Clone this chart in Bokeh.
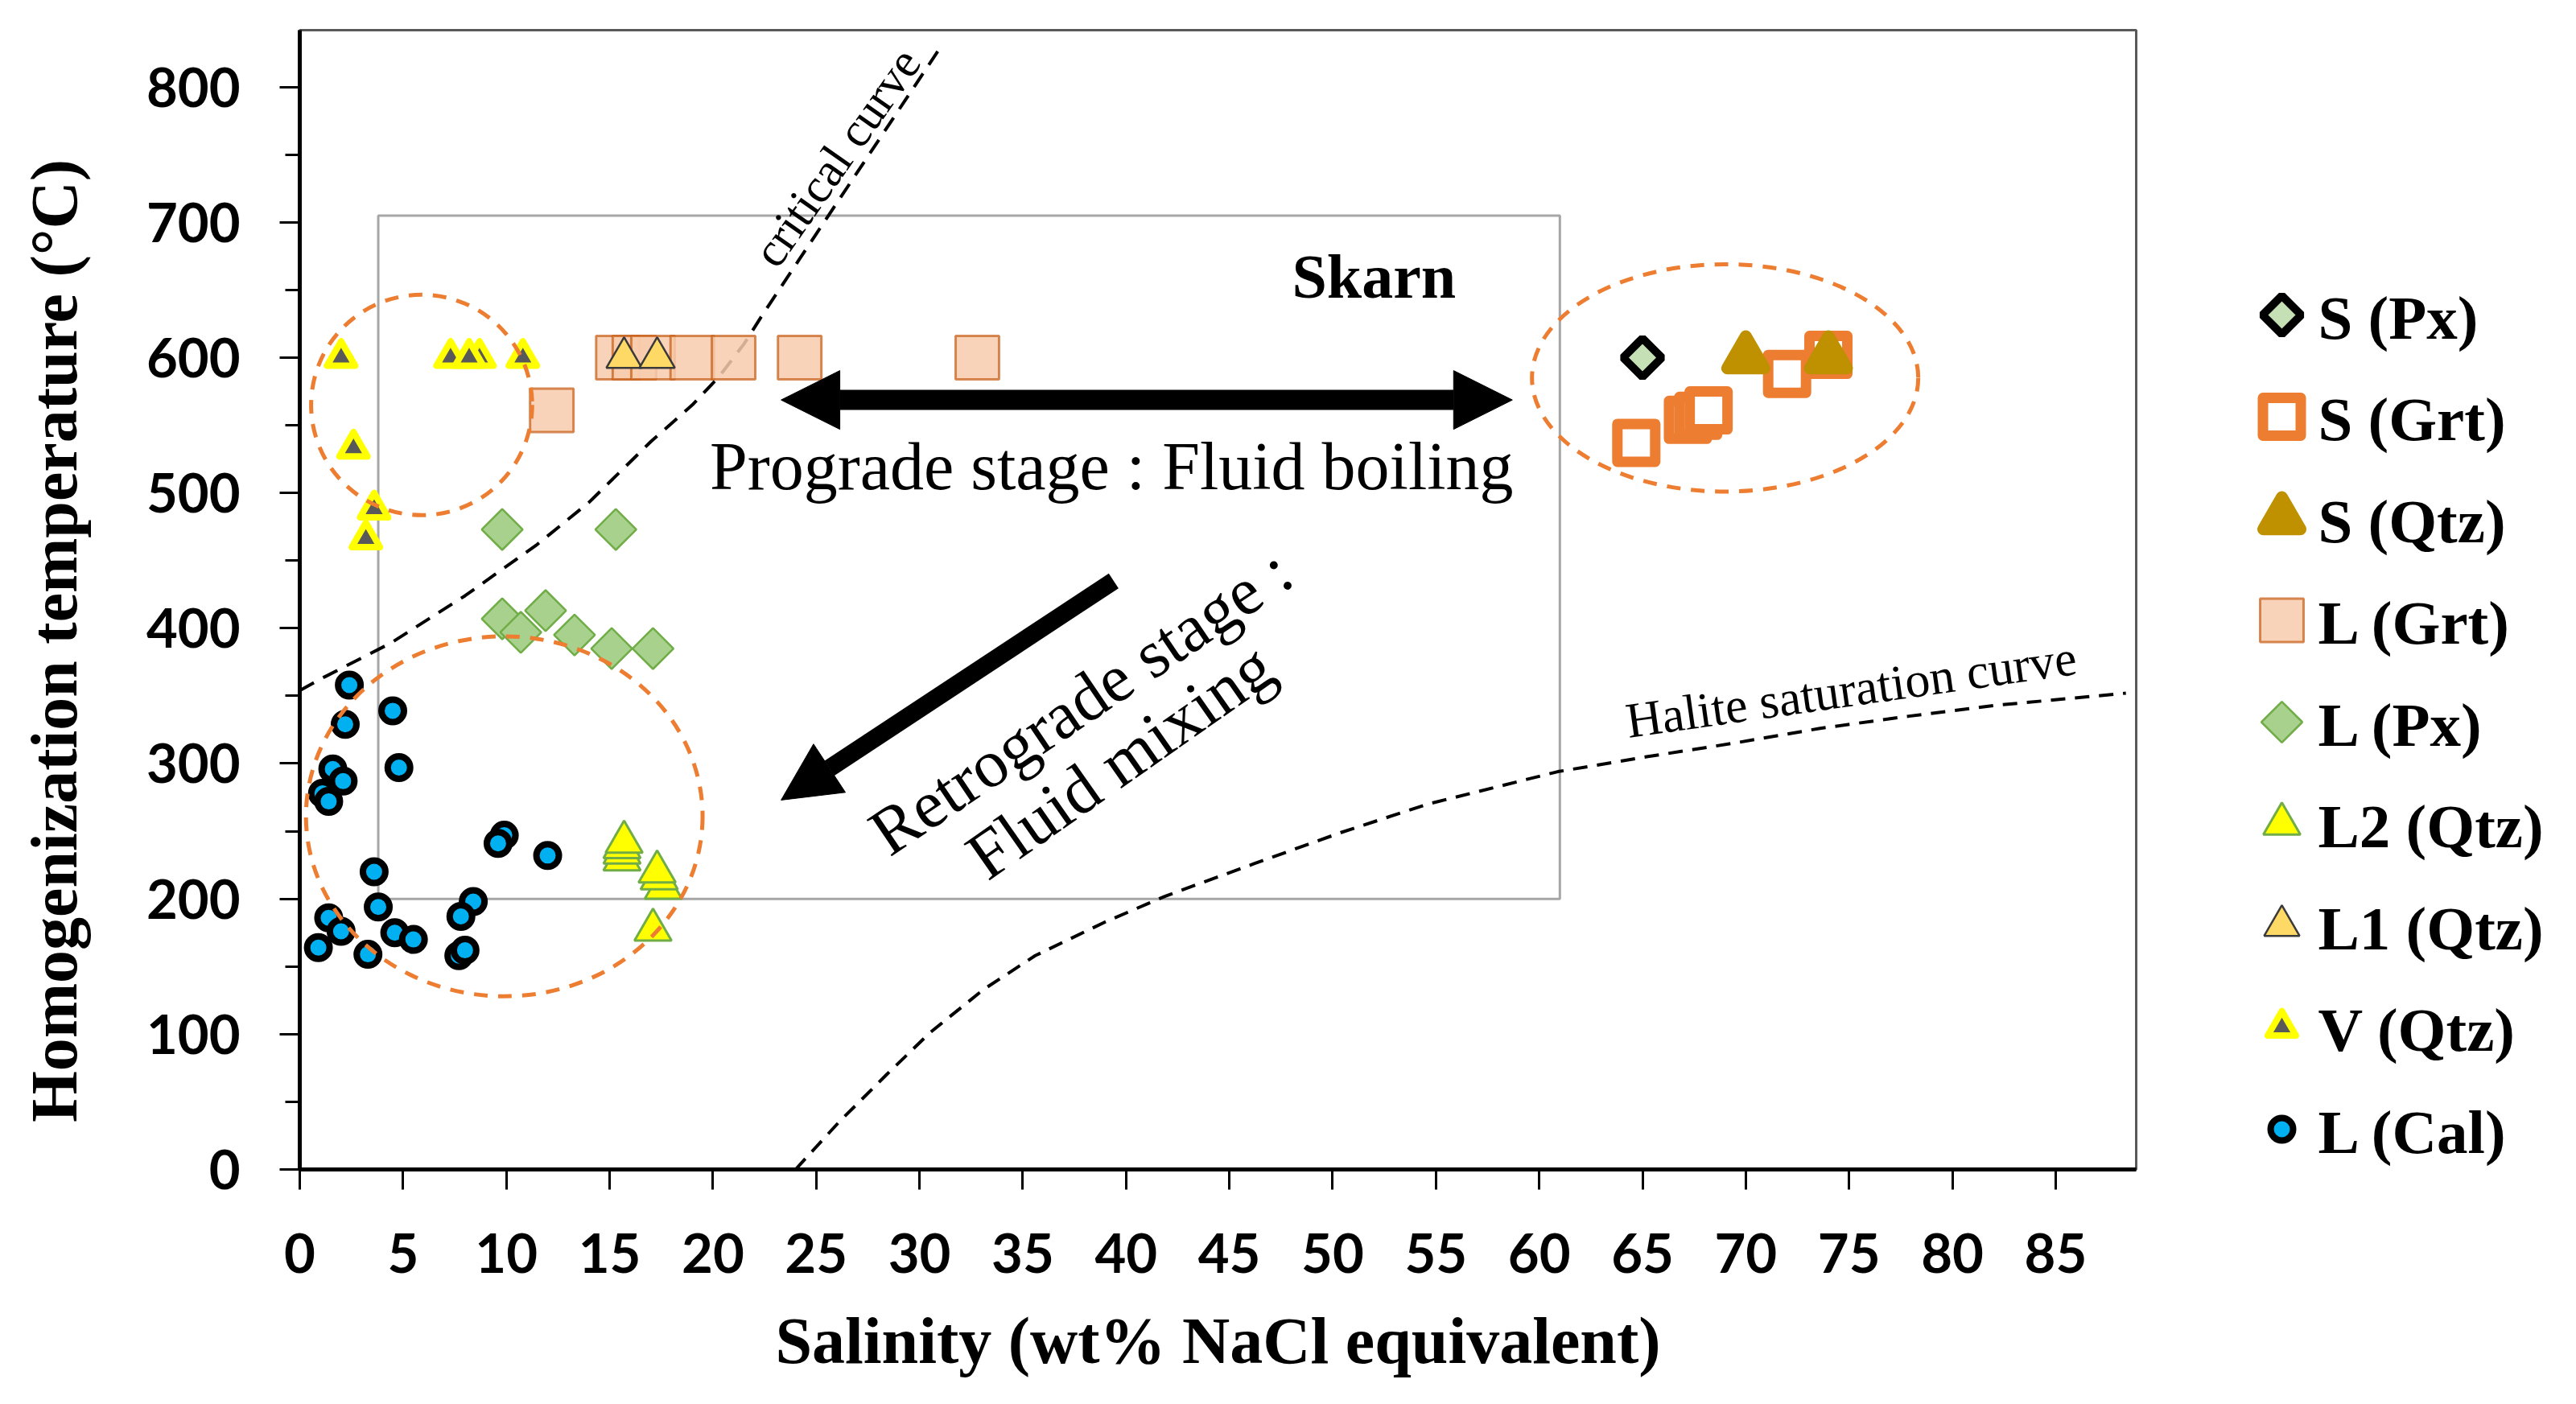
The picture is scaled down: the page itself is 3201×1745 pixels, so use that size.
import math
from bokeh.plotting import figure
from bokeh.models import Range1d, FixedTicker, Arrow, NormalHead, Label
from bokeh.layouts import row
from bokeh.core.properties import value
from bokeh.embed import file_html
from bokeh.resources import INLINE

# ---------------- data ----------------
s_px_x = [65.0]
s_px_y = [600]
s_grt_x = [64.7, 67.2, 67.7, 68.2, 72.0, 74.0]
s_grt_y = [537, 554, 557, 561, 588, 602]
s_qtz_x = [70.0, 74.0]
s_qtz_y = [600, 600]
l_grt_x = [12.2, 15.4, 16.2, 17.1, 19.0, 21.0, 24.2, 32.8]
l_grt_y = [561, 600, 600, 600, 600, 600, 600, 600]
l_px_x = [9.8, 15.3, 9.8, 10.7, 11.9, 13.3, 15.1, 17.1]
l_px_y = [473, 473, 407, 397, 413, 395, 385, 385]
l2_qtz_x = [15.6, 15.6, 15.6, 15.7, 17.6, 17.4, 17.3, 17.1]
l2_qtz_y = [229, 234, 238, 242, 208, 215, 220, 177]
l1_qtz_x = [15.7, 17.3]
l1_qtz_y = [600, 600]
v_qtz_x = [2.0, 7.3, 8.7, 8.2, 10.8, 2.6, 3.6, 3.2]
v_qtz_y = [600, 600, 600, 600, 600, 533, 488, 466]
l_cal_x = [2.4, 4.5, 2.2, 4.8, 1.6, 2.1, 1.1, 1.4, 9.9, 9.6, 12.0, 3.6, 3.8, 8.4,
           7.8, 1.4, 2.0, 0.9, 4.6, 5.5, 3.3, 7.7, 8.0]
l_cal_y = [358, 339, 329, 297, 296, 287, 278, 272, 247, 241, 232, 220, 194, 198,
           187, 186, 176, 164, 175, 170, 159, 158, 162]

crit_x = [0, 1.2, 4.4, 8.0, 11.5, 14.0, 17.0, 19.0, 20.3, 21.5, 22.5, 24.2, 25.9, 27.6, 29.3, 31.0]
crit_y = [354, 364, 389, 424, 462, 493, 538, 565, 586, 610, 634, 673, 712, 751, 790, 829]
hal_x = [24.0, 26.1, 28.4, 30.5, 33.1, 35.6, 39.0, 41.9, 46.2, 50.4, 54.6, 60.9, 65.2, 69.4, 73.6, 77.9, 82.1, 88.4]
hal_y = [0, 35, 70, 101, 133, 158, 183, 202, 226, 249, 270, 294, 305, 315, 326, 335, 343, 352]

ell_x = [5.9, 9.9, 69.0]
ell_y = [565, 261, 585]
ell_w = [10.7, 19.2, 18.7]
ell_h = [163, 266, 168]

skarn_left, skarn_right, skarn_bottom, skarn_top = 3.8, 61.0, 200, 705

x_ticks = [0, 5, 10, 15, 20, 25, 30, 35, 40, 45, 50, 55, 60, 65, 70, 75, 80, 85]
y_ticks = [0, 100, 200, 300, 400, 500, 600, 700, 800]
y_minor = [50, 150, 250, 350, 450, 550, 650, 750]

x_title = "Salinity (wt% NaCl equivalent)"
y_title = "Homogenization temperature (°C)"
legend_labels = ["S (Px)", "S (Grt)", "S (Qtz)", "L (Grt)", "L (Px)",
                 "L2 (Qtz)", "L1 (Qtz)", "V (Qtz)", "L (Cal)"]

# ---------------- styles ----------------
SERIF = "Liberation Serif"
st = {
    "S (Px)": dict(marker="square", angle=math.pi / 4, size=34, line_width=10,
                   fill_color="#C5E0B4", line_color="black"),
    "S (Grt)": dict(marker="square", size=47, line_width=13, line_join="round",
                    fill_color="white", line_color="#ED7D31"),
    "S (Qtz)": dict(marker="triangle", size=46, line_width=15, line_join="round",
                    fill_color="#BF9000", line_color="#BF9000"),
    "L (Grt)": dict(marker="square", size=54, line_width=3, fill_color="#F8CBAD",
                    fill_alpha=0.85, line_color="#C55A11", line_alpha=0.7),
    "L (Px)": dict(marker="square", angle=math.pi / 4, size=36, line_width=2.5,
                   fill_color="#A9D18E", line_color="#70AD47"),
    "L2 (Qtz)": dict(marker="triangle", size=46, line_width=3,
                     fill_color="#FFFF00", line_color="#70AD47"),
    "L1 (Qtz)": dict(marker="triangle", size=44, line_width=2.5,
                     fill_color="#FFD966", line_color="#3A3A3A"),
    "V (Qtz)": dict(marker="triangle", size=35, line_width=8, line_join="round",
                    fill_color="#595959", line_color="#FFFF00"),
    "L (Cal)": dict(marker="circle", size=28, line_width=8,
                    fill_color="#00B0F0", line_color="black"),
}

FR_TOP, FR_BOTTOM = 37, 1453
FIG_H = 1737
TW = 140           # width of the strip holding the y-axis title

# ---------------- y-title strip ----------------
tf = figure(width=TW, height=FIG_H, x_range=Range1d(0, TW), y_range=Range1d(FR_BOTTOM, FR_TOP),
            output_backend="svg", toolbar_location=None,
            min_border_left=0, min_border_right=0, min_border_top=FR_TOP,
            min_border_bottom=FIG_H - FR_BOTTOM, x_axis_location=None, y_axis_location=None)
tf.grid.visible = False
tf.outline_line_color = None
tf.text([67], [796], text=[y_title], angle=math.pi / 2, text_font=value(SERIF),
        text_font_style="bold", text_font_size="82px", text_align="center",
        text_baseline="alphabetic", text_color="black")

# ---------------- main figure ----------------
p = figure(width=2664 - TW, height=FIG_H, x_range=Range1d(0, 88.9), y_range=Range1d(0, 842),
           output_backend="svg", toolbar_location=None,
           min_border_left=372 - TW, min_border_right=10, min_border_top=FR_TOP,
           min_border_bottom=FIG_H - FR_BOTTOM)
p.grid.visible = False
p.background_fill_color = "white"
p.border_fill_color = "white"
p.outline_line_color = "#595959"
p.outline_line_width = 3

xa = p.xaxis[0]
xa.ticker = FixedTicker(ticks=x_ticks, minor_ticks=[])
ya = p.yaxis[0]
ya.ticker = FixedTicker(ticks=y_ticks, minor_ticks=y_minor)
for ax in (xa, ya):
    ax.axis_line_width = 5
    ax.axis_line_color = "black"
    ax.major_tick_in = 0
    ax.major_tick_out = 25
    ax.major_tick_line_width = 3
    ax.major_tick_line_color = "black"
    ax.minor_tick_in = 0
    ax.minor_tick_line_width = 3
    ax.minor_tick_line_color = "black"
    ax.major_label_text_font = "Lato"
    ax.major_label_text_font_style = "bold"
    ax.major_label_text_font_size = "67px"
    ax.major_label_text_color = "black"
    ax.axis_label_text_font = SERIF
    ax.axis_label_text_font_style = "bold"
    ax.axis_label_text_font_size = "82px"
    ax.axis_label_text_color = "black"
xa.minor_tick_out = 0
ya.minor_tick_out = 18
xa.major_label_standoff = 54
ya.major_label_standoff = 49
xa.axis_label = x_title
xa.axis_label_standoff = 36

# skarn box and curves
p.quad(left=[skarn_left], right=[skarn_right], bottom=[skarn_bottom], top=[skarn_top],
       fill_color=None, line_color="#A6A6A6", line_width=3)
p.line(crit_x, crit_y, line_color="black", line_width=4, line_dash="20 13")
p.line(hal_x, hal_y, line_color="black", line_width=4, line_dash="18 12")

series = [
    ("L (Grt)", l_grt_x, l_grt_y),
    ("L1 (Qtz)", l1_qtz_x, l1_qtz_y),
    ("L (Px)", l_px_x, l_px_y),
    ("L2 (Qtz)", l2_qtz_x, l2_qtz_y),
    ("V (Qtz)", v_qtz_x, v_qtz_y),
    ("L (Cal)", l_cal_x, l_cal_y),
    ("S (Grt)", s_grt_x, s_grt_y),
    ("S (Px)", s_px_x, s_px_y),
    ("S (Qtz)", s_qtz_x, s_qtz_y),
]
for name, xs, ys in series:
    p.scatter(xs, ys, **st[name])

p.ellipse(x=ell_x, y=ell_y, width=ell_w, height=ell_h, fill_color=None,
          line_color="#ED7D31", line_width=5, line_dash="17 13")

# arrows
p.add_layout(Arrow(start=NormalHead(size=73, fill_color="black", line_color="black", line_width=1),
                   end=NormalHead(size=73, fill_color="black", line_color="black", line_width=1),
                   x_start=23.3, y_start=568.7, x_end=58.7, y_end=568.7,
                   line_color="black", line_width=25))
p.add_layout(Arrow(end=NormalHead(size=72, fill_color="black", line_color="black", line_width=1),
                   x_start=39.4, y_start=435, x_end=23.3, y_end=273,
                   line_color="black", line_width=22))

# texts
def lab(x, y, t, size, angle=0.0, bold=False, baseline="alphabetic"):
    p.add_layout(Label(x=x, y=y, text=t, angle=angle, text_align="center",
                       text_baseline=baseline, text_font=SERIF,
                       text_font_style="bold" if bold else "normal",
                       text_font_size=f"{size}px", text_color="black"))

lab(52.0, 660, "Skarn", 78, bold=True)
lab(39.3, 520, "Prograde stage : Fluid boiling", 84)
lab(37.8, 346, "Retrograde stage :", 84, angle=math.radians(34))
lab(39.7, 302, "Fluid mixing", 85, angle=math.radians(35))
lab(26.0, 748, "critical curve", 60, angle=math.radians(55), baseline="middle")
lab(75.1, 355, "Halite saturation curve", 62, angle=math.radians(8.1), baseline="middle")

# ---------------- legend figure ----------------
LW = 529
lg = figure(width=LW, height=FIG_H, x_range=Range1d(0, LW), y_range=Range1d(FR_BOTTOM, FR_TOP),
            output_backend="svg", toolbar_location=None,
            min_border_left=0, min_border_right=0, min_border_top=FR_TOP,
            min_border_bottom=FIG_H - FR_BOTTOM,
            x_axis_location=None, y_axis_location=None)
lg.grid.visible = False
lg.outline_line_color = None
row_top, row_step, mark_x, text_x = 391, 126.5, 171, 216
for i, name in enumerate(legend_labels):
    yy = row_top + i * row_step
    lg.scatter([mark_x], [yy], **st[name])
    lg.text([text_x], [yy + 3], text=[name], text_font=value(SERIF), text_font_style="bold",
            text_font_size="77px", text_baseline="middle", text_align="left", text_color="black")

layout = row(tf, p, lg)
open("out.html", "w").write(file_html(layout, INLINE))
